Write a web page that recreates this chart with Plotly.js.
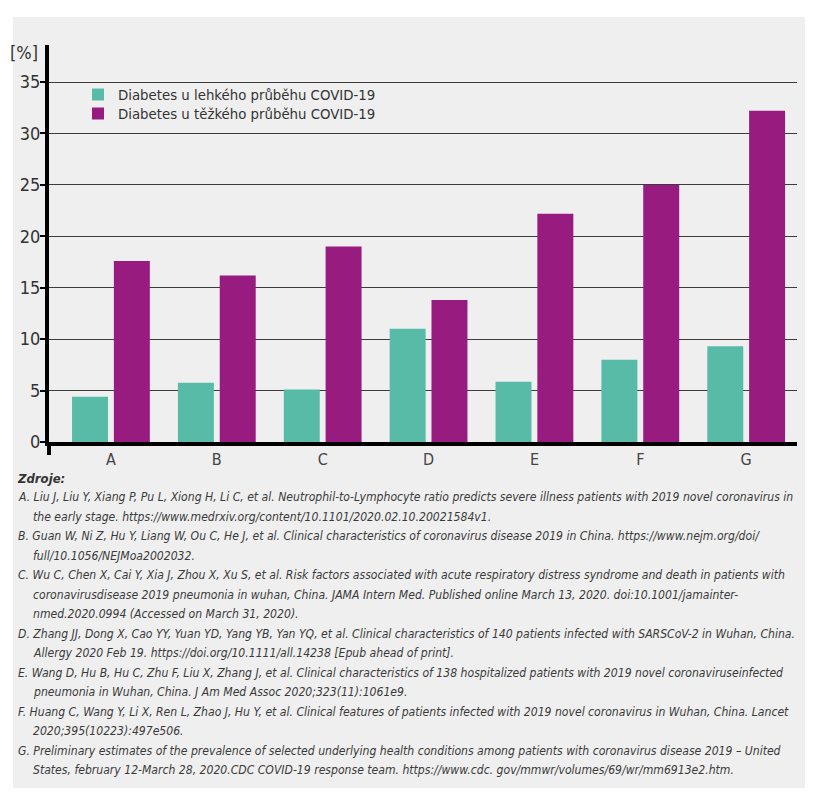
<!DOCTYPE html>
<html>
<head>
<meta charset="utf-8">
<script src="https://cdn.plot.ly/plotly-3.0.1.min.js"></script>
<style>
  html, body { margin: 0; padding: 0; background: #ffffff; }
  #chart { width: 821px; height: 800px; }
</style>
</head>
<body>
<div id="chart"></div>
<script>
// studies (letters refer to the sources below)
var studies = ["A", "B", "C", "D", "E", "F", "G"]
var mildValues = [4.4, 5.75, 5.1, 11.0, 5.85, 8.0, 9.3]
var severeValues = [17.6, 16.2, 19.0, 13.8, 22.2, 25.0, 32.2]
var seriesNames = ["Diabetes u lehkého průběhu COVID-19", "Diabetes u těžkého průběhu COVID-19"]
var yTicks = [0, 5, 10, 15, 20, 25, 30, 35]

var sourcesTitle = "Zdroje:"
var sources = [
    ["A. Liu J, Liu Y, Xiang P, Pu L, Xiong H, Li C, et al. Neutrophil-to-Lymphocyte ratio predicts severe illness patients with 2019 novel coronavirus in",
     "the early stage. https://www.medrxiv.org/content/10.1101/2020.02.10.20021584v1."],
    ["B. Guan W, Ni Z, Hu Y, Liang W, Ou C, He J, et al. Clinical characteristics of coronavirus disease 2019 in China. https://www.nejm.org/doi/",
     "full/10.1056/NEJMoa2002032."],
    ["C. Wu C, Chen X, Cai Y, Xia J, Zhou X, Xu S, et al. Risk factors associated with acute respiratory distress syndrome and death in patients with",
     "coronavirusdisease 2019 pneumonia in wuhan, China. JAMA Intern Med. Published online March 13, 2020. doi:10.1001/jamainter-",
     "nmed.2020.0994 (Accessed on March 31, 2020)."],
    ["D. Zhang JJ, Dong X, Cao YY, Yuan YD, Yang YB, Yan YQ, et al. Clinical characteristics of 140 patients infected with SARSCoV-2 in Wuhan, China.",
     "Allergy 2020 Feb 19. https://doi.org/10.1111/all.14238 [Epub ahead of print]."],
    ["E. Wang D, Hu B, Hu C, Zhu F, Liu X, Zhang J, et al. Clinical characteristics of 138 hospitalized patients with 2019 novel coronaviruseinfected",
     "pneumonia in Wuhan, China. J Am Med Assoc 2020;323(11):1061e9."],
    ["F. Huang C, Wang Y, Li X, Ren L, Zhao J, Hu Y, et al. Clinical features of patients infected with 2019 novel coronavirus in Wuhan, China. Lancet",
     "2020;395(10223):497e506."],
    ["G. Preliminary estimates of the prevalence of selected underlying health conditions among patients with coronavirus disease 2019 – United",
     "States, february 12-March 28, 2020.CDC COVID-19 response team. https://www.cdc. gov/mmwr/volumes/69/wr/mm6913e2.htm."]
]

var narrow = "DejaVu Sans Condensed, Liberation Sans, sans-serif"

// plot area in pixels, used to place the page-level text
var W = 821, H = 800
var M = { l: 49, r: 24, t: 45, b: 358 }
var plotW = W - M.l - M.r
var plotH = H - M.t - M.b
function px(x) { return (x - M.l) / plotW }
function py(y) { return (H - M.b - y) / plotH }

var mild = {
    name: seriesNames[0],
    x: studies,
    y: mildValues,
    type: "bar",
    marker: { color: "#57bba8" },
    legend: "legend",
    hoverinfo: "none"
}
var severe = {
    name: seriesNames[1],
    x: studies,
    y: severeValues,
    type: "bar",
    marker: { color: "#981b80" },
    legend: "legend2",
    hoverinfo: "none"
}

var notes = [
    {
        text: "[%]",
        xref: "paper", yref: "paper",
        x: px(8), y: py(52),
        xanchor: "left", yanchor: "middle",
        showarrow: false,
        font: { family: narrow, size: 18, color: "#333333" }
    },
    {
        text: "<b><i>" + sourcesTitle + "</i></b>",
        xref: "paper", yref: "paper",
        x: px(15), y: py(478),
        xanchor: "left", yanchor: "middle",
        showarrow: false,
        font: { family: narrow, size: 13, color: "#333333" }
    }
]

var lineNo = 0
sources.forEach(src => {
    src.forEach((line, i) => {
        notes.push({
            text: "<i>" + line + "</i>",
            xref: "paper", yref: "paper",
            x: px(i === 0 ? 16 : 31),
            y: py(497 + lineNo * 19.5),
            xanchor: "left", yanchor: "middle",
            showarrow: false,
            font: { family: narrow, size: 12.1, color: "#3a3a3a" }
        })
        lineNo++
    })
})

function legendBox(yPix) {
    return {
        x: px(78), y: py(yPix),
        xanchor: "left", yanchor: "middle",
        bgcolor: "rgba(0,0,0,0)",
        font: { family: narrow, size: 14.8, color: "#333333" }
    }
}

var layout = {
    width: W,
    height: H,
    margin: M,
    barmode: "group",
    bargap: 0.21,
    bargroupgap: 0.14,
    showlegend: true,
    legend: legendBox(95),
    legend2: legendBox(114),
    xaxis: {
        range: [-0.585, 6.48],
        showgrid: false,
        zeroline: false,
        showline: true,
        linecolor: "#000000",
        linewidth: 4,
        ticks: "",
        tickfont: { family: narrow, size: 16, color: "#444444" },
        fixedrange: true
    },
    yaxis: {
        range: [0, 38.6],
        tickvals: yTicks,
        ticks: "outside",
        ticklen: 5,
        tickwidth: 2,
        tickcolor: "#000000",
        ticklabelstandoff: -4,
        showgrid: true,
        gridcolor: "#3c3c3c",
        gridwidth: 1,
        zeroline: false,
        showline: true,
        linecolor: "#000000",
        linewidth: 4,
        tickfont: { family: narrow, size: 18, color: "#333333" },
        fixedrange: true
    },
    shapes: [
        // grey panel behind the whole figure
        {
            type: "rect", xref: "paper", yref: "paper", layer: "below",
            x0: px(13), x1: px(805), y0: py(788), y1: py(17),
            fillcolor: "#efefef", line: { width: 0 }
        },
        // the y axis runs a little below zero
        {
            type: "line", xref: "paper", yref: "paper",
            x0: 0, x1: 0, y0: 0, y1: py(455),
            line: { color: "#000000", width: 4 }
        }
    ],
    annotations: notes,
    paper_bgcolor: "#ffffff",
    plot_bgcolor: "rgba(0,0,0,0)"
}

Plotly.newPlot("chart", [mild, severe], layout, {
    displayModeBar: false,
    staticPlot: true
})
</script>
</body>
</html>
